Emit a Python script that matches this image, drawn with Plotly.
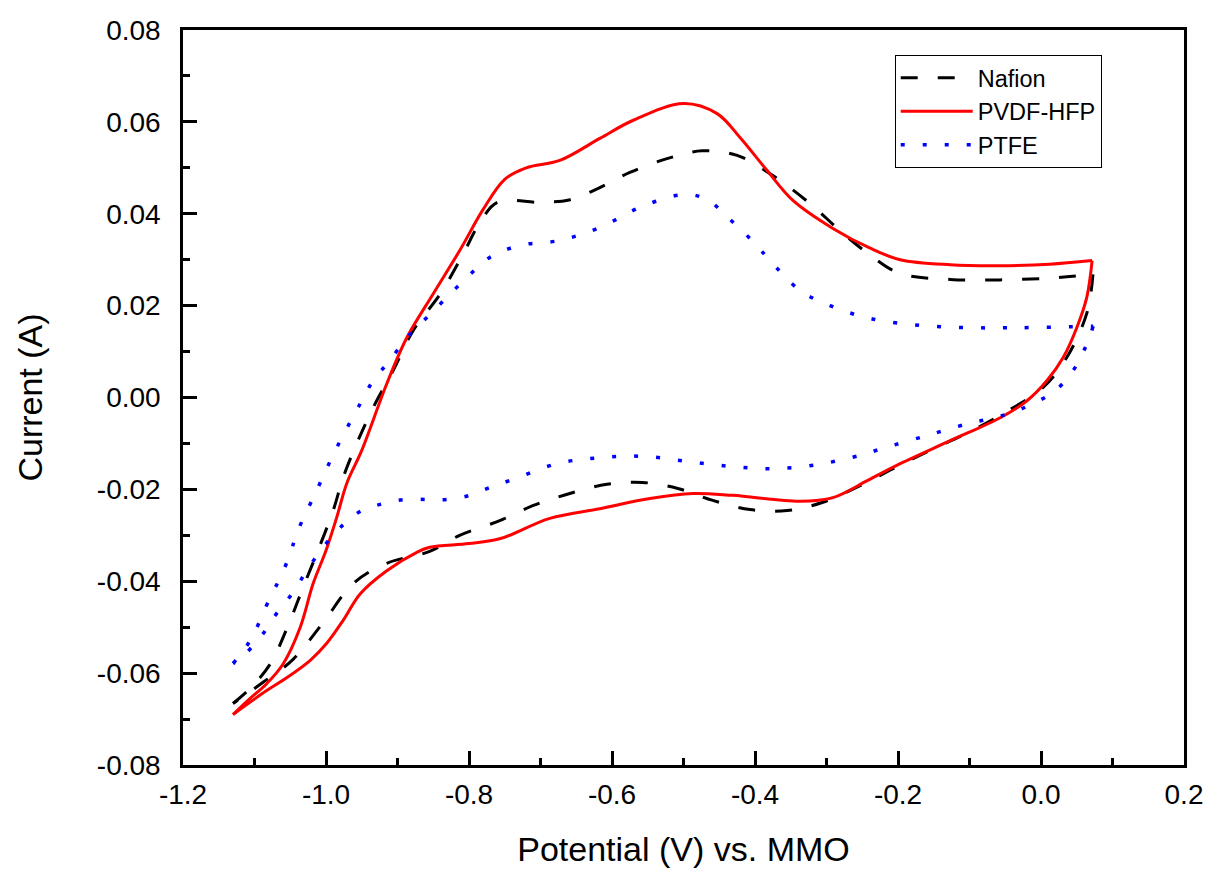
import plotly.graph_objects as go

# ---- data ----
nafion_x = [-1.13, -1.106, -1.078, -1.05, -1.032, -1.013, -0.99, -0.976, -0.957, -0.934, -0.906, -0.878,
            -0.84, -0.808, -0.785, -0.76, -0.70, -0.66, -0.617, -0.575, -0.523, -0.474, -0.425, -0.375,
            -0.323, -0.281, -0.239, -0.197, -0.127, -0.057, 0.012, 0.0727,
            0.064, 0.036, 0.003, -0.053, -0.104, -0.155, -0.207, -0.253, -0.305, -0.355, -0.407, -0.459,
            -0.508, -0.557, -0.607, -0.659, -0.71, -0.757, -0.813, -0.855, -0.915, -0.962, -1.004,
            -1.046, -1.088, -1.13]
nafion_y = [-0.0666, -0.0633, -0.058, -0.0485, -0.0413, -0.034, -0.0246, -0.0174, -0.010, -0.0022, 0.0059,
            0.0146, 0.0226, 0.0313, 0.038, 0.0425, 0.0425, 0.043, 0.0457, 0.049, 0.052, 0.0537, 0.0527,
            0.0483, 0.0422, 0.0363, 0.031, 0.027, 0.0257, 0.0256, 0.026, 0.0268,
            0.0183, 0.0087, 0.0022, -0.0035, -0.0078, -0.0115, -0.0155, -0.0192, -0.0228, -0.0246,
            -0.0244, -0.0224, -0.0198, -0.0185, -0.0189, -0.0209, -0.0235, -0.0268, -0.030, -0.0335,
            -0.0361, -0.0405, -0.049, -0.057, -0.062, -0.0666]

pvdf_x = [-1.13, -1.106, -1.083, -1.06, -1.036, -1.018, -1.0, -0.985, -0.971, -0.95, -0.915, -0.887, -0.85,
          -0.813, -0.78, -0.75, -0.72, -0.673, -0.617, -0.571, -0.5, -0.453, -0.421, -0.383, -0.347,
          -0.291, -0.239, -0.197, -0.127, -0.057, 0.012, 0.0715,
          0.064, 0.050, 0.031, 0.0084, -0.0196, -0.057, -0.127, -0.197, -0.243, -0.291, -0.337, -0.431,
          -0.487, -0.547, -0.617, -0.687, -0.756, -0.80, -0.855, -0.873, -0.915, -0.952, -0.976, -0.999,
          -1.022, -1.055, -1.083, -1.13]
pvdf_y = [-0.069, -0.0655, -0.0623, -0.058, -0.050, -0.0405, -0.0333, -0.0261, -0.0187, -0.0115, 0.003,
          0.013, 0.0226, 0.032, 0.041, 0.0475, 0.050, 0.0516, 0.0564, 0.0603, 0.064, 0.0618, 0.0566,
          0.0494, 0.0429, 0.0368, 0.0325, 0.030, 0.0289, 0.0287, 0.029, 0.0298,
          0.0218, 0.0152, 0.0087, 0.0037, -0.0007, -0.0044, -0.0094, -0.0144, -0.0181, -0.0218, -0.0226,
          -0.0213, -0.0209, -0.022, -0.0242, -0.0263, -0.0307, -0.0318, -0.0326, -0.0337, -0.0377,
          -0.0427, -0.0485, -0.0535, -0.0572, -0.061, -0.0638, -0.069]

ptfe_x = [-1.13, -1.106, -1.078, -1.064, -1.05, -1.041, -1.013, -0.985, -0.952, -0.934, -0.911, -0.887,
          -0.859, -0.831, -0.803, -0.771, -0.729, -0.673, -0.617, -0.558, -0.498, -0.467, -0.438, -0.40,
          -0.379, -0.337, -0.295, -0.239, -0.169, -0.099, -0.029, 0.073,
          0.062, 0.045, 0.02, -0.011, -0.041, -0.071, -0.102, -0.16, -0.222, -0.253, -0.313, -0.375,
          -0.435, -0.495, -0.557, -0.617, -0.677, -0.738, -0.771, -0.799, -0.831, -0.859, -0.89, -0.92,
          -0.95, -0.98, -1.004, -1.027, -1.046, -1.069, -1.09, -1.118, -1.13]
ptfe_y = [-0.0579, -0.0529, -0.0435, -0.0392, -0.034, -0.0296, -0.0202, -0.0109, -0.0013, 0.0037, 0.008,
          0.013, 0.0174, 0.0218, 0.0261, 0.0305, 0.0331, 0.0342, 0.037, 0.0416, 0.0442, 0.0431, 0.0392,
          0.0335, 0.0298, 0.0233, 0.020, 0.0172, 0.0157, 0.0152, 0.0152, 0.0155,
          0.0109, 0.0059, 0.0015, -0.0013, -0.0033, -0.0046, -0.0057, -0.0083, -0.0111, -0.0126, -0.0146,
          -0.0155, -0.015, -0.0139, -0.0128, -0.0131, -0.0144, -0.0178, -0.0196, -0.0213, -0.0222,
          -0.0222, -0.0222, -0.0231, -0.0246, -0.0283, -0.0326, -0.0377, -0.0424, -0.047, -0.0518,
          -0.0566, -0.0579]

x_tickvals = [-1.2, -1.0, -0.8, -0.6, -0.4, -0.2, 0.0, 0.2]
x_ticktext = ["-1.2", "-1.0", "-0.8", "-0.6", "-0.4", "-0.2", "0.0", "0.2"]
y_tickvals = [-0.08, -0.06, -0.04, -0.02, 0.0, 0.02, 0.04, 0.06, 0.08]
y_ticktext = ["-0.08", "-0.06", "-0.04", "-0.02", "0.00", "0.02", "0.04", "0.06", "0.08"]

FONT = "Liberation Sans, Arial, sans-serif"

fig = go.Figure()


def add_loop(xs, ys, name, line):
    # split the CV loop at the switching potential so both branch ends stay sharp
    k = xs.index(max(xs))
    fig.add_trace(go.Scatter(x=xs[:k + 1], y=ys[:k + 1], mode="lines", name=name, legendgroup=name,
                             line=dict(shape="spline", smoothing=1.0, **line)))
    fig.add_trace(go.Scatter(x=xs[k:], y=ys[k:], mode="lines", name=name, legendgroup=name,
                             showlegend=False, line=dict(shape="spline", smoothing=1.0, **line)))


add_loop(nafion_x, nafion_y, "Nafion", dict(color="black", width=3, dash="17px,20px"))
add_loop(pvdf_x, pvdf_y, "PVDF-HFP", dict(color="#ff0000", width=3))
add_loop(ptfe_x, ptfe_y, "PTFE", dict(color="#0000ff", width=3.5, dash="4px,18px"))

axis_common = dict(showgrid=False, zeroline=False, showline=True, linecolor="black", linewidth=2.5,
                   mirror=True, ticks="inside", tickwidth=2.5, tickcolor="black", automargin=False,
                   tickfont=dict(family=FONT, size=28, color="black"))

fig.update_xaxes(range=[-1.2, 0.2], tickmode="array", tickvals=x_tickvals, ticktext=x_ticktext,
                 ticklen=14, ticklabelstandoff=3,
                 minor=dict(ticks="inside", ticklen=7, tickwidth=2.5, tick0=-1.1, dtick=0.2, tickcolor="black"),
                 title=dict(text="Potential (V) vs. MMO", font=dict(family=FONT, size=34, color="black"),
                            standoff=28),
                 **axis_common)
fig.update_yaxes(range=[-0.08, 0.08], tickmode="array", tickvals=y_tickvals, ticktext=y_ticktext,
                 ticklen=14, ticklabelstandoff=14,
                 minor=dict(ticks="inside", ticklen=7, tickwidth=2.5, tick0=-0.07, dtick=0.02, tickcolor="black"),
                 title=dict(text="Current (A)", font=dict(family=FONT, size=34, color="black"),
                            standoff=44),
                 **axis_common)

fig.update_layout(
    width=1206, height=869,
    margin=dict(l=183, r=22, t=30, b=104),
    paper_bgcolor="white", plot_bgcolor="white",
    font=dict(family=FONT, color="black"),
    legend=dict(x=0.711, y=0.966, xanchor="left", yanchor="top",
                bgcolor="white", bordercolor="black", borderwidth=1,
                font=dict(family=FONT, size=23.5, color="black"),
                itemwidth=72, tracegroupgap=0),
)

# remove the page's default body margin so the figure fills the window exactly
fig.write_html("out.html", config={"displayModeBar": False},
               post_script="document.body.style.margin='0';document.body.style.overflow='hidden';")
